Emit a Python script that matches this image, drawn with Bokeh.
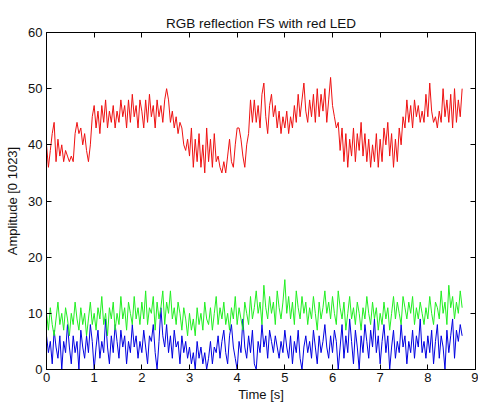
from bokeh.plotting import figure
from bokeh.models import LinearAxis, FixedTicker, Range1d
from bokeh.embed import file_html
from bokeh.resources import INLINE
import numpy as np

# Sensor readings, sampled every 0.04 s
SAMPLE_STEP = 0.04

red = [
    40, 36, 39, 42, 44, 37, 41, 38, 40, 37, 39, 38, 37, 38, 37, 42, 44, 42, 43, 40, 42, 39, 37, 40, 45,
    47, 43, 46, 42, 47, 44, 48, 43, 46, 44, 47, 43, 46, 44, 48, 45, 47, 43, 48, 44, 49, 45, 47, 43, 48,
    46, 43, 48, 44, 49, 45, 47, 43, 48, 45, 47, 44, 48, 50, 48, 44, 46, 43, 45, 42, 44, 43, 40, 39, 41,
    38, 43, 36, 41, 37, 42, 36, 40, 35, 43, 37, 41, 36, 42, 37, 38, 36, 35, 37, 35, 38, 41, 37, 36, 40,
    43, 43, 41, 38, 36, 40, 42, 48, 44, 48, 44, 47, 43, 49, 51, 45, 42, 47, 49, 45, 47, 43, 46, 42, 45,
    43, 46, 42, 45, 43, 47, 44, 49, 45, 48, 51, 46, 44, 48, 45, 49, 44, 50, 45, 49, 46, 50, 44, 48, 52,
    47, 45, 43, 44, 39, 43, 37, 42, 36, 41, 38, 43, 37, 42, 39, 44, 38, 42, 37, 41, 36, 40, 37, 42, 36,
    41, 37, 43, 40, 44, 38, 42, 36, 41, 37, 43, 40, 45, 43, 48, 44, 47, 43, 48, 45, 47, 44, 46, 44, 49,
    45, 51, 46, 44, 45, 43, 46, 44, 50, 45, 48, 44, 49, 43, 50, 44, 48, 45, 50,
]

green = [
    10, 7, 11, 8, 6, 9, 12, 8, 10, 7, 11, 9, 6, 10, 8, 12, 9, 7, 11, 8, 10, 6, 9, 12, 8,
    10, 7, 11, 9, 13, 8, 10, 6, 11, 9, 12, 7, 10, 8, 13, 9, 11, 7, 12, 10, 8, 13, 9, 11, 8,
    12, 9, 14, 8, 11, 10, 13, 7, 12, 9, 11, 14, 8, 12, 10, 14, 9, 11, 8, 12, 10, 7, 11, 9, 6,
    10, 7, 9, 6, 11, 8, 10, 7, 12, 9, 8, 11, 7, 10, 13, 8, 11, 9, 12, 8, 10, 7, 11, 9, 13,
    8, 11, 9, 7, 12, 10, 8, 13, 9, 11, 14, 10, 12, 8, 15, 11, 9, 13, 10, 12, 8, 14, 11, 9, 12,
    16, 10, 13, 9, 12, 8, 14, 11, 9, 13, 10, 12, 8, 11, 9, 13, 10, 7, 12, 9, 11, 14, 10, 12, 9,
    13, 10, 8, 14, 11, 9, 12, 7, 10, 13, 9, 11, 8, 12, 10, 7, 11, 9, 13, 10, 8, 12, 9, 11, 7,
    10, 8, 12, 9, 11, 7, 10, 13, 9, 12, 10, 8, 13, 11, 9, 12, 10, 13, 8, 11, 9, 12, 10, 8, 11,
    9, 13, 10, 8, 12, 11, 9, 14, 10, 12, 8, 15, 11, 13, 9, 12, 10, 14, 11,
]

blue = [
    6, 3, 5, 1, 7, 4, 2, 6, 0, 5, 3, 8, 4, 1, 6, 3, 5, 0, 7, 4, 2, 6, 3, 8, 5,
    0, 4, 7, 2, 5, 3, 9, 4, 1, 6, 3, 8, 5, 2, 7, 4, 6, 1, 5, 3, 8, 4, 6, 2, 5,
    3, 7, 4, 1, 6, 5, 8, 3, 0, 5, 11, 6, 4, 8, 3, 6, 2, 7, 4, 5, 1, 6, 3, 5, 2,
    4, 1, 3, 0, 5, 2, 4, 1, 3, 0, 2, 5, 1, 4, 3, 6, 2, 5, 7, 3, 1, 6, 8, 4, 2,
    0, 5, 3, 9, 4, 2, 6, 3, 7, 1, 0, 5, 3, 8, 4, 6, 2, 7, 5, 3, 6, 4, 2, 5, 3,
    7, 4, 2, 6, 1, 5, 3, 7, 2, 0, 4, 6, 3, 5, 2, 7, 4, 1, 6, 3, 5, 8, 4, 2, 6,
    3, 7, 5, 0, 4, 8, 2, 6, 3, 9, 5, 1, 7, 4, 0, 6, 3, 8, 5, 2, 7, 4, 9, 3, 6,
    1, 5, 8, 3, 6, 0, 4, 7, 2, 5, 3, 8, 4, 6, 1, 5, 3, 7, 2, 6, 4, 9, 3, 5, 2,
    6, 3, 7, 1, 5, 8, 2, 6, 4, 0, 7, 3, 6, 9, 2, 7, 5, 8, 6,
]

x_ticks = [0, 1, 2, 3, 4, 5, 6, 7, 8, 9]
y_ticks = [0, 10, 20, 30, 40, 50, 60]

t = np.arange(len(red)) * SAMPLE_STEP

FONT = "Liberation Sans"
INK = "#111111"

p = figure(
    width=478, height=408,
    x_range=Range1d(0, 9), y_range=Range1d(0, 60),
    output_backend="svg", toolbar_location=None,
    min_border_left=46, min_border_right=3,
    min_border_top=32, min_border_bottom=39,
    title="RGB reflection FS with red LED",
)
p.title.align = "center"
p.title.text_font = FONT
p.title.text_font_size = "13.5px"
p.title.text_font_style = "normal"
p.title.text_color = INK
p.title.standoff = 3

p.xgrid.visible = False
p.ygrid.visible = False
p.outline_line_color = "black"
p.outline_line_width = 1
p.background_fill_color = "white"
p.border_fill_color = "white"

p.line(t, blue, color="#0000e0", line_width=1)
p.line(t, green, color="#22ee22", line_width=1)
p.line(t, red, color="#ee1111", line_width=1)

for ax, ticks in ((p.xaxis[0], x_ticks), (p.yaxis[0], y_ticks)):
    ax.ticker = FixedTicker(ticks=ticks)
    ax.major_tick_in = 5
    ax.major_tick_out = 0
    ax.minor_tick_line_color = None
    ax.axis_line_color = "black"
    ax.major_label_text_font = FONT
    ax.major_label_text_font_size = "13px"
    ax.major_label_text_color = INK
    ax.axis_label_text_font = FONT
    ax.axis_label_text_font_size = "13px"
    ax.axis_label_text_font_style = "normal"
    ax.axis_label_text_color = INK

p.xaxis[0].axis_label = "Time [s]"
p.xaxis[0].axis_label_standoff = 2
p.xaxis[0].major_label_standoff = 3
p.yaxis[0].axis_label = "Amplitude [0 1023]"
p.yaxis[0].axis_label_standoff = 5
p.yaxis[0].major_label_standoff = 4

# Box ticks on the top and right edges (tick marks only, no labels)
top = LinearAxis(ticker=FixedTicker(ticks=x_ticks))
right = LinearAxis(ticker=FixedTicker(ticks=y_ticks))
for ax in (top, right):
    ax.major_tick_in = 5
    ax.major_tick_out = 0
    ax.minor_tick_line_color = None
    ax.axis_line_color = None
    ax.major_label_text_color = None
    ax.major_label_text_font_size = "1px"
    ax.major_label_standoff = 0
p.add_layout(top, "above")
p.add_layout(right, "right")

open("out.html", "w").write(file_html(p, INLINE))
